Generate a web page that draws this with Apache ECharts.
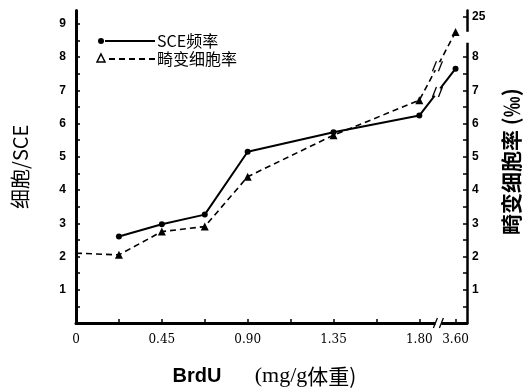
<!DOCTYPE html>
<html>
<head>
    <meta charset="utf-8">
    <title>BrdU SCE</title>
    <script src="https://cdn.jsdelivr.net/npm/echarts@6/dist/echarts.min.js"></script>
</head>
<body style="margin:0;background:#fff">
    <div id="main" style="width:530px;height:392px;"></div>
    <script type="text/javascript">
        // 剂量 (mg/g体重)
        var xLabels = ['0', '0.45', '0.90', '1.35', '1.80', '3.60'];
        var xMinor = [0.225, 0.45, 0.675, 0.9, 1.125, 1.35, 1.575, 1.8, 3.6];
        // SCE频率 (细胞/SCE)
        var sceX = [0.225, 0.45, 0.675, 0.9, 1.35, 1.8, 3.6];
        var sceY = [2.6, 2.97, 3.26, 5.15, 5.74, 6.24, 7.65];
        // 畸变细胞率 (‰)
        var abX = [0, 0.225, 0.45, 0.675, 0.9, 1.35, 1.8, 3.6];
        var abY = [2.1, 2.05, 2.75, 2.9, 4.4, 5.65, 6.7, 22];
        var leftLabels = [1, 2, 3, 4, 5, 6, 7, 8, 9];
        var rightLabels = [1, 2, 3, 4, 5, 6, 7, 8, 25];

        // 断轴: x 1.80 之后压缩, 右轴 8 之后压缩
        function xPos(v) { return v <= 1.8 ? v : 1.8 + 0.19 * (v - 1.8) / 1.8; }
        function rPos(v) { return v <= 8 ? v : 9.2 - (25 - v) * 0.15; }

        var serif = '"DejaVu Serif", "Noto Sans CJK SC", serif';
        var cjk = '"Noto Sans CJK SC", sans-serif';

        var halfTicks = [];
        for (var t = 0.5; t <= 9; t += 0.5) halfTicks.push(t);
        var rightTicks = halfTicks.filter(function (v) { return v <= 8; }).concat([rPos(25)]);

        var myChart = echarts.init(document.getElementById('main'));

        var sceData = [];
        for (var i = 0; i < sceX.length; i++) sceData.push([xPos(sceX[i]), sceY[i]]);
        var abData = [];
        for (var j = 0; j < abX.length; j++) {
            var item = { value: [xPos(abX[j]), rPos(abY[j])] };
            if (abX[j] === 0) item.symbol = 'none';
            abData.push(item);
        }

        var option = {
            animation: false,
            grid: { left: 76, right: 60, top: 10.5, bottom: 65 },
            xAxis: {
                type: 'value', min: 0, max: 2.05,
                axisLine: { lineStyle: { color: '#000', width: 3 } },
                axisTick: { inside: true, length: 4, customValues: xMinor.map(xPos), lineStyle: { color: '#000', width: 1.5 } },
                axisLabel: {
                    customValues: xLabels.map(function (s) { return xPos(parseFloat(s)); }),
                    formatter: function (v) {
                        for (var k = 0; k < xLabels.length; k++) {
                            if (Math.abs(xPos(parseFloat(xLabels[k])) - v) < 1e-6) return xLabels[k];
                        }
                        return '';
                    },
                    color: '#000', fontFamily: serif, fontSize: 12, margin: 11
                },
                splitLine: { show: false },
                name: '{a|BrdU}          {b|(mg/g}{c|体重)}',
                nameLocation: 'middle', nameGap: 42,
                nameTextStyle: {
                    padding: [0, 14, 0, 0],
                    rich: {
                        a: { fontFamily: 'Liberation Sans', fontWeight: 'bold', fontSize: 20, color: '#000' },
                        b: { fontFamily: 'Liberation Serif', fontSize: 22, color: '#000' },
                        c: { fontFamily: cjk, fontSize: 21, color: '#000' }
                    }
                }
            },
            yAxis: [
                {
                    type: 'value', min: 0, max: 9.4,
                    axisLine: { show: true, lineStyle: { color: '#000', width: 3 } },
                    axisTick: { inside: true, length: 4, customValues: halfTicks, lineStyle: { color: '#000', width: 1.5 } },
                    axisLabel: { customValues: leftLabels, color: '#000', fontFamily: 'Liberation Sans', fontWeight: 'bold', fontSize: 12, margin: 10 },
                    splitLine: { show: false },
                    name: '细胞/SCE', nameLocation: 'middle', nameGap: 46,
                    nameTextStyle: { fontFamily: cjk, fontSize: 20, color: '#000' }
                },
                {
                    type: 'value', min: 0, max: 9.4, position: 'right',
                    axisLine: { show: true, lineStyle: { color: '#000', width: 2.5 } },
                    axisTick: { inside: true, length: 4, customValues: rightTicks, lineStyle: { color: '#000', width: 1.5 } },
                    axisLabel: {
                        customValues: rightLabels.map(rPos),
                        formatter: function (v) { return v > 8.5 ? '25' : String(Math.round(v)); },
                        color: '#000', fontFamily: 'Liberation Sans', fontWeight: 'bold', fontSize: 12, margin: 5
                    },
                    splitLine: { show: false },
                    name: '畸变细胞率 (‰)', nameLocation: 'middle', nameGap: 34, nameRotate: 90,
                    nameTextStyle: { fontFamily: cjk, fontWeight: 'bold', fontSize: 21, color: '#000', padding: [0, 0, 0, 10] }
                }
            ],
            series: [
                {
                    name: 'SCE频率', type: 'line', yAxisIndex: 0, data: sceData,
                    symbol: 'circle', symbolSize: 6,
                    lineStyle: { color: '#000', width: 2 },
                    itemStyle: { color: '#000' }
                },
                {
                    name: '畸变细胞率', type: 'line', yAxisIndex: 1, data: abData,
                    symbol: 'triangle', symbolSize: 8,
                    lineStyle: { color: '#000', width: 1.6, type: [6, 4] },
                    itemStyle: { color: '#000' }
                }
            ]
        };
        myChart.setOption(option);

        // 图例与断轴记号
        var g = [];
        g.push({ type: 'circle', shape: { cx: 101, cy: 41, r: 3 }, style: { fill: '#000' } });
        g.push({ type: 'line', shape: { x1: 105, y1: 41, x2: 155, y2: 41 }, style: { stroke: '#000', lineWidth: 1.8 } });
        g.push({ type: 'text', x: 157, y: 41, style: { text: 'SCE频率', fontFamily: cjk, fontSize: 16, fill: '#000', verticalAlign: 'middle' } });
        g.push({ type: 'polygon', shape: { points: [[101, 54], [105, 62], [97, 62]] }, style: { fill: '#fff', stroke: '#000', lineWidth: 1.5 } });
        g.push({ type: 'line', shape: { x1: 109, y1: 59, x2: 155, y2: 59 }, style: { stroke: '#000', lineWidth: 1.8, lineDash: [6, 4] } });
        g.push({ type: 'text', x: 157, y: 59, style: { text: '畸变细胞率', fontFamily: cjk, fontSize: 16, fill: '#000', verticalAlign: 'middle' } });

        function slashes(p) {
            g.push({ type: 'rect', shape: { x: p[0] - 3, y: p[1] - 4, width: 6, height: 8 }, style: { fill: '#fff' }, z: 100 });
            g.push({ type: 'line', shape: { x1: p[0] - 5, y1: p[1] + 5, x2: p[0] - 1, y2: p[1] - 5 }, style: { stroke: '#000', lineWidth: 1.3 }, z: 101 });
            g.push({ type: 'line', shape: { x1: p[0] + 1, y1: p[1] + 5, x2: p[0] + 5, y2: p[1] - 5 }, style: { stroke: '#000', lineWidth: 1.3 }, z: 101 });
        }
        var n = sceData.length;
        var a0 = myChart.convertToPixel({ xAxisIndex: 0, yAxisIndex: 0 }, sceData[n - 2]);
        var a1 = myChart.convertToPixel({ xAxisIndex: 0, yAxisIndex: 0 }, sceData[n - 1]);
        slashes([(a0[0] + a1[0]) / 2, (a0[1] + a1[1]) / 2]);
        var m = abData.length;
        var b0 = myChart.convertToPixel({ xAxisIndex: 0, yAxisIndex: 1 }, abData[m - 2].value);
        var b1 = myChart.convertToPixel({ xAxisIndex: 0, yAxisIndex: 1 }, abData[m - 1].value);
        slashes([(b0[0] + b1[0]) / 2, (b0[1] + b1[1]) / 2]);
        var xb = myChart.convertToPixel({ xAxisIndex: 0, yAxisIndex: 0 }, [1.9, 0]);
        slashes([xb[0], xb[1]]);
        var rTop = myChart.convertToPixel({ xAxisIndex: 0, yAxisIndex: 1 }, [2.05, 8.76]);
        var rBot = myChart.convertToPixel({ xAxisIndex: 0, yAxisIndex: 1 }, [2.05, 8.43]);
        g.push({ type: 'rect', shape: { x: rTop[0] - 3, y: rTop[1], width: 6, height: rBot[1] - rTop[1] }, style: { fill: '#fff' }, z: 100 });

        myChart.setOption({ graphic: g });
    </script>
</body>
</html>
